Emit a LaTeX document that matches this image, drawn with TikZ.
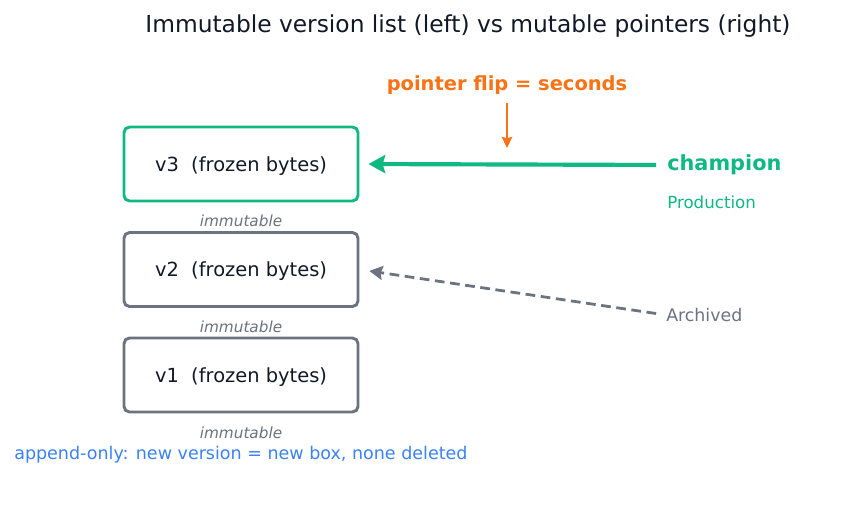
\documentclass[tikz,border=0pt]{standalone}
\usepackage{fontspec}
\setmainfont{DejaVu Sans}
\usetikzlibrary{arrows.meta}
\definecolor{cgreen}{HTML}{10B981}
\definecolor{cgray}{HTML}{6B7280}
\definecolor{corange}{HTML}{F97316}
\definecolor{cblue}{HTML}{3B82F6}
\definecolor{cdark}{HTML}{111827}
\begin{document}
\begin{tikzpicture}[x=0.72pt,y=-0.72pt,
  verbox/.style={draw, line width=2.1pt, rounded corners=4pt, minimum width=234*0.72pt, minimum height=74*0.72pt, inner sep=0pt, text=cdark, font=\fontsize{14}{17}\selectfont, text height=13.5pt, text depth=3pt},
  immlabel/.style={text=cgray, font=\fontsize{11}{13}\itshape\selectfont, inner sep=0pt},
  sidelabel/.style={anchor=west, inner sep=0pt},
]
\useasboundingbox[fill=white] (0,0) rectangle (862,510);
\node[font=\fontsize{16.8}{20}\selectfont, text=cdark, inner sep=0pt] (title) at (468,26.5) {Immutable version list (left) vs mutable pointers (right)};

\node[verbox, draw=cgreen] (v3) at (241,164) {v3\ \ (frozen bytes)};
\node[verbox, draw=cgray] (v2) at (241,269.5) {v2\ \ (frozen bytes)};
\node[verbox, draw=cgray] (v1) at (241,375) {v1\ \ (frozen bytes)};

\node[immlabel] (i3) at (241,221) {immutable};
\node[immlabel] (i2) at (241,327) {immutable};
\node[immlabel] (i1) at (241,433) {immutable};

\node[sidelabel, text=cgreen, font=\fontsize{15}{18}\bfseries\selectfont] (champ) at (667,165) {champion};
\node[sidelabel, text=cgreen, font=\fontsize{12}{14}\selectfont] (prod) at (667,202) {Production};
\node[sidelabel, text=cgray, font=\fontsize{12.5}{15}\selectfont] (arch) at (666,315) {Archived};

\node[text=corange, font=\fontsize{14}{17}\bfseries\selectfont, inner sep=0pt] (pf) at (507,85) {pointer flip = seconds};
\coordinate (pfs) at (507,103);
\coordinate (pfe) at (507,148);

\node[sidelabel, text=cblue, font=\fontsize{12.6}{15}\selectfont] (note) at (14,454.5) {append-only: new version = new box, none deleted};

\draw[cgreen, line width=3pt, -{Stealth[length=12pt,width=13pt,inset=1.8pt]}, shorten <=11*0.72pt, shorten >=9*0.72pt] (champ.west) -- (v3.east);
\draw[cgray, line width=2pt, dash pattern=on 7pt off 4pt, -{Stealth[length=9.5pt,width=10pt,inset=1.2pt]}, shorten <=10*0.72pt, shorten >=10*0.72pt] (arch.west) -- (v2.east);
\draw[corange, line width=1.8pt, -{Stealth[length=8pt,width=7.5pt,inset=1pt]}] (pfs) -- (pfe);
\end{tikzpicture}
\end{document}
